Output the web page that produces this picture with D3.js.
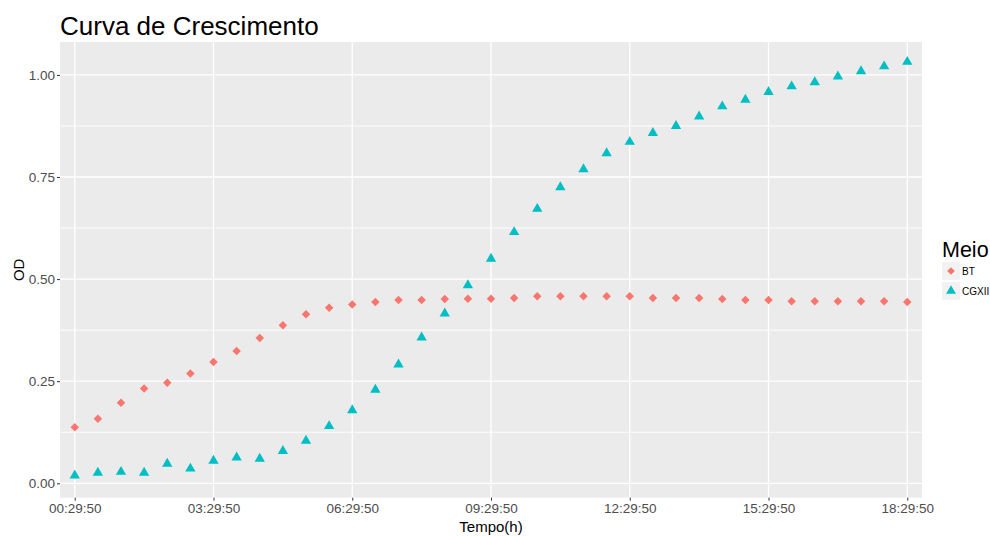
<!DOCTYPE html>
<html><head><meta charset="utf-8">
<script src="https://cdn.jsdelivr.net/npm/d3@7"></script>
<style>body{margin:0;background:#fff}svg{display:block;font-family:"Liberation Sans",Arial,sans-serif}</style>
</head><body>
<svg id="c" width="990" height="536"></svg>
<script>
const times = ["00:29:50","00:59:50","01:29:50","01:59:50","02:29:50","02:59:50","03:29:50","03:59:50","04:29:50","04:59:50",
"05:29:50","05:59:50","06:29:50","06:59:50","07:29:50","07:59:50","08:29:50","08:59:50","09:29:50","09:59:50",
"10:29:50","10:59:50","11:29:50","11:59:50","12:29:50","12:59:50","13:29:50","13:59:50","14:29:50","14:59:50",
"15:29:50","15:59:50","16:29:50","16:59:50","17:29:50","17:59:50","18:29:50"];
const bt = [0.137,0.158,0.197,0.232,0.246,0.269,0.297,0.324,0.356,0.387,
0.414,0.430,0.438,0.444,0.449,0.449,0.451,0.452,0.452,0.454,
0.458,0.458,0.458,0.458,0.458,0.454,0.454,0.454,0.451,0.449,
0.449,0.446,0.446,0.446,0.446,0.446,0.444];
const cgxii = [0.019,0.026,0.028,0.026,0.048,0.036,0.055,0.063,0.060,0.079,
0.104,0.140,0.179,0.229,0.291,0.357,0.416,0.485,0.550,0.615,
0.672,0.725,0.769,0.808,0.836,0.858,0.875,0.898,0.923,0.939,
0.958,0.972,0.982,0.996,1.009,1.021,1.032];
const xTicks = ["00:29:50","03:29:50","06:29:50","09:29:50","12:29:50","15:29:50","18:29:50"];
const yTicks = [0,0.25,0.5,0.75,1.0];
const yMinor = [0.125,0.375,0.625,0.875];
const series = ["BT","CGXII"];
const colors = ["#F8766D","#00BFC4"];

const toSec = s => { const [h,m,ss] = s.split(":").map(Number); return h*3600+m*60+ss; };
const svg = d3.select("#c");
const L=60,R=922,T=42,B=497.7;
const t0 = toSec(times[0]), t1 = toSec(times[times.length-1]);
const padX = (t1-t0)*0.0177;
const x = d3.scaleLinear().domain([t0-padX,t1+padX]).range([L,R]);
const y = d3.scaleLinear().domain([-0.0353,1.0806]).range([B,T]);

svg.append("rect").attr("x",L).attr("y",T).attr("width",R-L).attr("height",B-T).attr("fill","#EBEBEB");
const g = svg.append("g");
g.selectAll(".ymin").data(yMinor).join("line").attr("x1",L).attr("x2",R)
 .attr("y1",d=>y(d)).attr("y2",d=>y(d)).attr("stroke","#fff").attr("stroke-width",0.9);
g.selectAll(".ymaj").data(yTicks).join("line").attr("x1",L).attr("x2",R)
 .attr("y1",d=>y(d)).attr("y2",d=>y(d)).attr("stroke","#fff").attr("stroke-width",1.3);
g.selectAll(".xmaj").data(xTicks).join("line").attr("y1",T).attr("y2",B)
 .attr("x1",d=>x(toSec(d))).attr("x2",d=>x(toSec(d))).attr("stroke","#fff").attr("stroke-width",1.3);

// axes
const yAxis = d3.axisLeft(y).tickValues(yTicks).tickFormat(d3.format(".2f")).tickSize(3).tickPadding(2);
const ya = svg.append("g").attr("transform",`translate(${L},0)`).call(yAxis);
const xAxis = d3.axisBottom(x).tickValues(xTicks.map(toSec)).tickFormat((d,i)=>xTicks[i]).tickSize(3).tickPadding(3);
const xa = svg.append("g").attr("transform",`translate(0,${B})`).call(xAxis);
[ya,xa].forEach(a=>{
  a.select(".domain").remove();
  a.selectAll(".tick line").attr("stroke","#333").attr("stroke-width",1);
  a.selectAll("text").attr("fill","#4D4D4D").style("font-size","13.5px").style("font-family","'Liberation Sans',Arial,sans-serif");
});

// points
const diamond = d3.symbol().type(d3.symbolSquare).size(36);
const tri = d3.symbol().type(d3.symbolTriangle).size(46);
[bt,cgxii].forEach((vals,si)=>{
  svg.append("g").selectAll("path").data(vals).join("path")
   .attr("d", si===0 ? diamond() : tri())
   .attr("transform",(d,i)=> `translate(${x(toSec(times[i]))},${y(d)})` + (si===0?" rotate(45)":""))
   .attr("fill",colors[si]);
});

// titles
svg.append("text").attr("x",60).attr("y",35).attr("font-size",26).attr("fill","#000").text("Curva de Crescimento");
svg.append("text").attr("x",(L+R)/2).attr("y",532).attr("text-anchor","middle").attr("font-size",15).attr("fill","#000").text("Tempo(h)");
svg.append("text").attr("transform",`translate(24,${(T+B)/2}) rotate(-90)`).attr("text-anchor","middle").attr("font-size",15).attr("fill","#000").text("OD");

// legend
const lg = svg.append("g");
lg.append("text").attr("x",942).attr("y",257).attr("font-size",21.5).attr("fill","#000").text("Meio");
series.forEach((s,i)=>{
  const by = 262 + i*20;
  lg.append("rect").attr("x",942).attr("y",by).attr("width",18).attr("height",18).attr("fill","#F2F2F2");
  lg.append("path").attr("d", i===0 ? d3.symbol().type(d3.symbolSquare).size(30)() : d3.symbol().type(d3.symbolTriangle).size(42)())
    .attr("transform",`translate(951,${by+9})`+(i===0?" rotate(45)":"")).attr("fill",colors[i]);
  lg.append("text").attr("x",962).attr("y",by+9).attr("dy","0.35em").attr("font-size",10).attr("fill","#000").text(s);
});
</script>
</body></html>
